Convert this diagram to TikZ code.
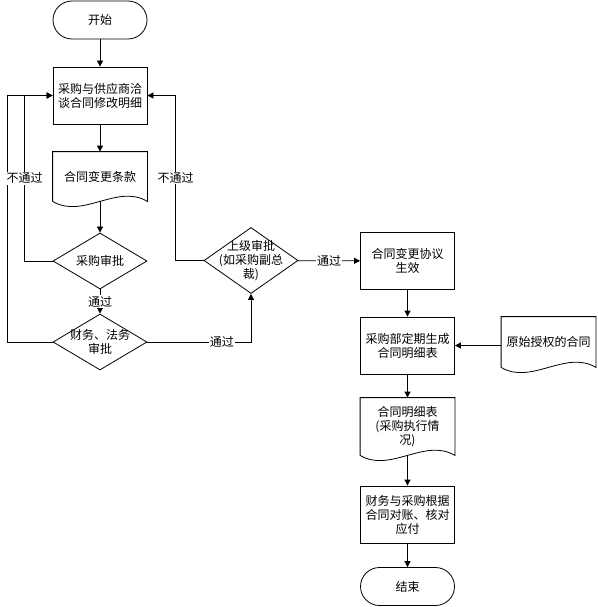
\documentclass[tikz,border=0pt]{standalone}
\usepackage{fontspec}
\setmainfont{Noto Sans CJK SC}
\usetikzlibrary{shapes.geometric,arrows.meta,calc}

\begin{document}
\begin{tikzpicture}[x=1pt,y=-1pt,font=\fontsize{12}{14}\selectfont,line width=0.8pt,
  term/.style={draw, rounded corners=19pt, minimum width=94pt, minimum height=38pt},
  proc/.style={draw, align=center, minimum width=94pt, minimum height=57pt, inner sep=2pt},
  doc/.style={align=center, minimum width=94pt, inner sep=2pt},
  decision/.style={diamond, draw, minimum width=94pt, minimum height=56pt, inner sep=0pt},
  lab/.style={align=center},
  pass/.style={fill=white, inner sep=1pt},
  arr/.style={-{Triangle[length=6pt,width=6pt]}}]
  \useasboundingbox (0,0) rectangle (597,607);

  \node[term] (start) at (100,20) {开始};
  \node[proc] (talk) at (100,95.5) {采购与供应商洽\\谈合同修改明细};
  \node[doc, minimum height=49pt] (terms) at (100,176.5) {合同变更条款};
  \node[decision, label={[lab]center:采购审批}] (buyck) at (100,261) {};
  \node[decision, label={[lab]center:{财务、法务\\审批}}] (finck) at (100,342) {};
  \node[decision, minimum height=66pt, label={[lab]center:{上级审批\\(如采购副总\\裁)}}] (boss) at (251,260.5) {};

  \node[proc] (valid) at (407.5,261) {合同变更协议\\生效};
  \node[proc] (gen) at (407.5,345.5) {采购部定期生成\\合同明细表};
  \node[doc, minimum height=50pt] (orig) at (548.5,342) {原始授权的合同};
  \node[doc, minimum height=57pt] (list) at (407.5,426.5) {合同明细表\\(采购执行情\\况)};
  \node[proc] (pay) at (407.5,514.5) {财务与采购根据\\合同对账、核对\\应付};
  \node[term] (stop) at (407.5,586.5) {结束};

  % document outlines
  \foreach \n in {terms,orig,list}
    \draw (\n.south west) -- (\n.north west) -- (\n.north east) -- (\n.south east)
      .. controls ($(\n.south east)+(-30pt,18pt)$) and ($(\n.south west)+(30pt,-18pt)$) .. (\n.south west);

  \draw[arr] (start) -- (talk);
  \draw[arr] (talk) -- (terms);
  \draw[arr] (terms.south) -- (buyck);
  \draw[arr] (buyck) -- node[pass] {通过} (finck);
  \draw[arr] (finck.west) -- ++(-45,0) |- (talk.west);
  \draw[arr] (buyck.west) -- ++(-28,0) |- node[pass,pos=0.25] {不通过} (talk.west);
  \draw[arr] (finck.east) -| node[pass,pos=0.36] {通过} (boss.south);
  \draw[arr] (boss.west) -- ++(-28,0) |- node[pass,pos=0.25] {不通过} (talk.east);
  \draw[arr] (boss) -- node[pass] {通过} (valid);
  \draw[arr] (valid) -- (gen);
  \draw[arr] (orig.west |- gen.east) -- (gen.east);
  \draw[arr] (gen) -- (list);
  \draw[arr] (list.south) -- (pay);
  \draw[arr] (pay) -- (stop);
\end{tikzpicture}
\end{document}
